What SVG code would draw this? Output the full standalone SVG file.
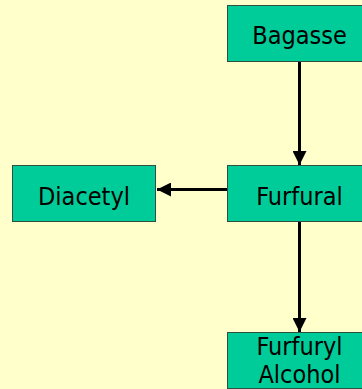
<svg xmlns="http://www.w3.org/2000/svg" width="362" height="389" viewBox="0 0 362 389">
<defs>
<style>
.box{fill:#00CC99;stroke:#2F4F3F;stroke-width:1}
.lbl{font-family:"DejaVu Sans Condensed","DejaVu Sans",sans-serif;font-size:25px;fill:#000;text-anchor:middle}
.con{stroke:#000;stroke-width:3;fill:none}
</style>
<marker id="ah" viewBox="0 0 14 14" refX="14" refY="7" markerWidth="14" markerHeight="14" markerUnits="userSpaceOnUse" orient="auto">
<path d="M0,0 L14,7 L0,14 Z" fill="#000"/>
</marker>
</defs>
<rect width="362" height="389" fill="#FFFFCC"/>
<g id="connectors">
<line class="con" x1="299.5" y1="61" x2="299.5" y2="165" marker-end="url(#ah)"/>
<line class="con" x1="227" y1="189.5" x2="157" y2="189.5" marker-end="url(#ah)"/>
<line class="con" x1="299.5" y1="221" x2="299.5" y2="332" marker-end="url(#ah)"/>
</g>
<g id="bagasse">
<rect class="box" x="227.5" y="5.5" width="145" height="56"/>
<text class="lbl" x="299.5" y="43.5">Bagasse</text>
</g>
<g id="furfural">
<rect class="box" x="227.5" y="165.5" width="145" height="56"/>
<text class="lbl" x="299.5" y="204.5">Furfural</text>
</g>
<g id="diacetyl">
<rect class="box" x="12.5" y="165.5" width="143" height="56"/>
<text class="lbl" x="84" y="204.5">Diacetyl</text>
</g>
<g id="furfuryl-alcohol">
<rect class="box" x="227.5" y="332.5" width="145" height="56"/>
<text class="lbl" x="299.5" y="355">Furfuryl</text>
<text class="lbl" x="299.5" y="383">Alcohol</text>
</g>
</svg>
